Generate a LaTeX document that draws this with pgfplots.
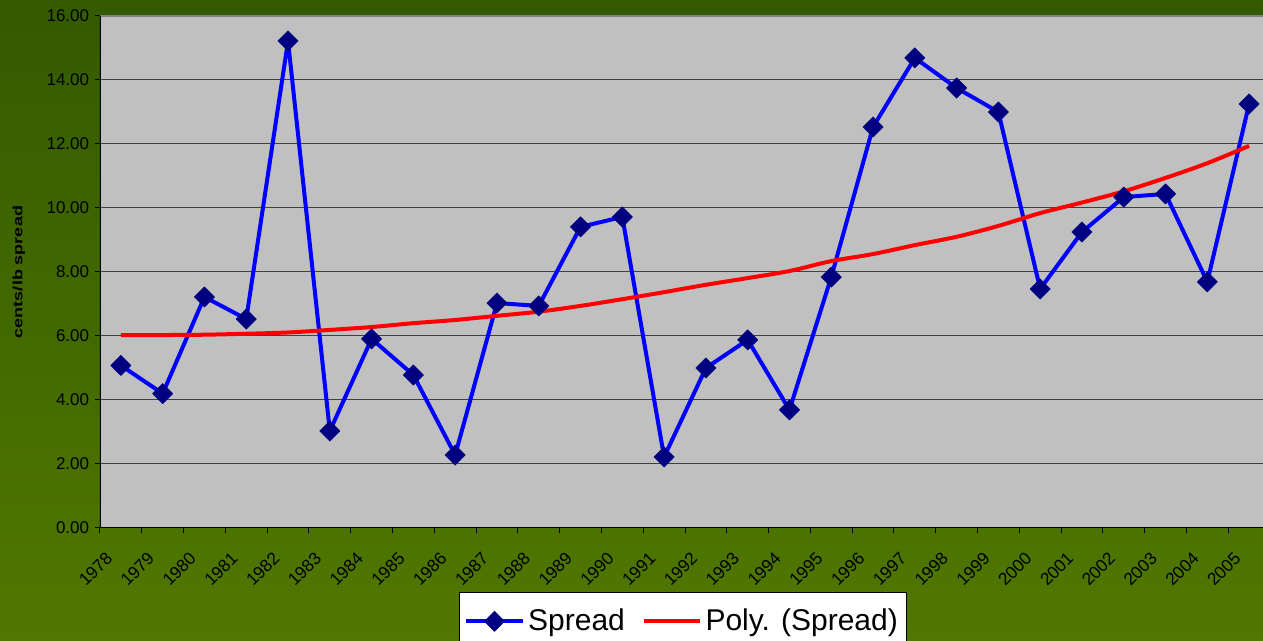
\documentclass[border=0pt]{standalone}
\usepackage{pgfplots}
\pgfplotsset{compat=1.18}
\usepackage{fontspec}
\setmainfont{Liberation Sans}
\definecolor{bgtop}{HTML}{345A00}
\definecolor{bgbot}{HTML}{507800}
\definecolor{plotgray}{HTML}{C0C0C0}
\definecolor{gridgray}{HTML}{404040}
\definecolor{navy}{HTML}{000080}
\begin{document}
\begin{tikzpicture}
\useasboundingbox (-60pt,-67.8pt) rectangle (697.8pt,316.8pt);
\clip (-60pt,-67.8pt) rectangle (697.8pt,316.8pt);
\shade[top color=bgtop, bottom color=bgbot] (-60pt,-67.8pt) rectangle (697.8pt,316.8pt);
\begin{axis}[
  scale only axis,
  width=702pt, height=307.2pt,
  xmin=0, xmax=28, ymin=0, ymax=16,
  axis background/.style={fill=plotgray},
  axis line style={draw=none},
  tick pos=left, tick align=outside,
  major tick length=3pt,
  tick style={black, line width=0.6pt},
  xtick={0,1,...,28}, xticklabels={},
  ytick={0,2,...,16},
  ymajorgrids,
  grid style={gridgray, line width=0.6pt},
  yticklabel style={font=\fontsize{10.2}{12}\selectfont, /pgf/number format/.cd, fixed, fixed zerofill, precision=2, assume math mode=true},
  extra x ticks={0.5,1.5,...,27.5},
  extra x tick labels={1978,1979,1980,1981,1982,1983,1984,1985,1986,1987,1988,1989,1990,1991,1992,1993,1994,1995,1996,1997,1998,1999,2000,2001,2002,2003,2004,2005},
  extra x tick style={major tick length=0pt, grid=none,
    xticklabel style={xshift=-4.5pt, yshift=-14pt, rotate=45, anchor=east, font=\fontsize{10.4}{12}\selectfont}},
  ylabel={\scalebox{1.35}[1]{\bfseries\fontsize{8}{10}\selectfont cents/lb spread}},
  every axis y label/.style={at={(axis description cs:-0.0692,0.5)}, rotate=90, anchor=center},
  legend columns=2,
  legend style={at={(axis description cs:0.498,-0.1348)}, anchor=north, draw=black, fill=white, line width=0.6pt,
    font=\fontsize{18}{21}\selectfont, inner xsep=3pt, inner ysep=8pt, yshift=3pt,
    /tikz/every even column/.append style={column sep=8pt}},
  legend image code/.code={\draw[#1, mark repeat=2, mark phase=2] plot coordinates {(0pt,0pt) (17pt,0pt) (34pt,0pt)};},
]
\addplot[blue, line width=2.4pt, line join=round, mark=square*, mark size=4.3pt, mark options={rotate=45, fill=navy, draw=navy, line width=0.3pt}]
coordinates {
(0.5,5.08) (1.5,4.20) (2.5,7.22) (3.5,6.53) (4.5,15.22) (5.5,3.03) (6.5,5.91) (7.5,4.78)
(8.5,2.28) (9.5,7.03) (10.5,6.94) (11.5,9.41) (12.5,9.72) (13.5,2.22) (14.5,5.00) (15.5,5.88)
(16.5,3.69) (17.5,7.84) (18.5,12.53) (19.5,14.69) (20.5,13.75) (21.5,13.00) (22.5,7.47)
(23.5,9.25) (24.5,10.34) (25.5,10.44) (26.5,7.69) (27.5,13.25)
};
\addlegendentry{Spread}
\addplot[red, line width=2.4pt, smooth, no markers]
coordinates {
(0.5,6.03) (1.5,6.03) (2.5,6.04) (3.5,6.07) (4.5,6.11) (5.5,6.19) (6.5,6.28) (7.5,6.40)
(8.5,6.50) (9.5,6.63) (10.5,6.76) (11.5,6.94) (12.5,7.15) (13.5,7.37) (14.5,7.60) (15.5,7.81)
(16.5,8.03) (17.5,8.34) (18.5,8.56) (19.5,8.84) (20.5,9.10) (21.5,9.44) (22.5,9.84)
(23.5,10.17) (24.5,10.52) (25.5,10.94) (26.5,11.40) (27.5,11.94)
};
\addlegendentry{Poly. (Spread)}
\draw[gray, line width=1.2pt] (rel axis cs:0,1) -- (rel axis cs:1,1);
\draw[black, line width=0.7pt] (rel axis cs:0,0) -- (rel axis cs:0,1);
\draw[black, line width=0.7pt] (rel axis cs:0,0) -- (rel axis cs:1,0);
\end{axis}
\end{tikzpicture}
\end{document}
